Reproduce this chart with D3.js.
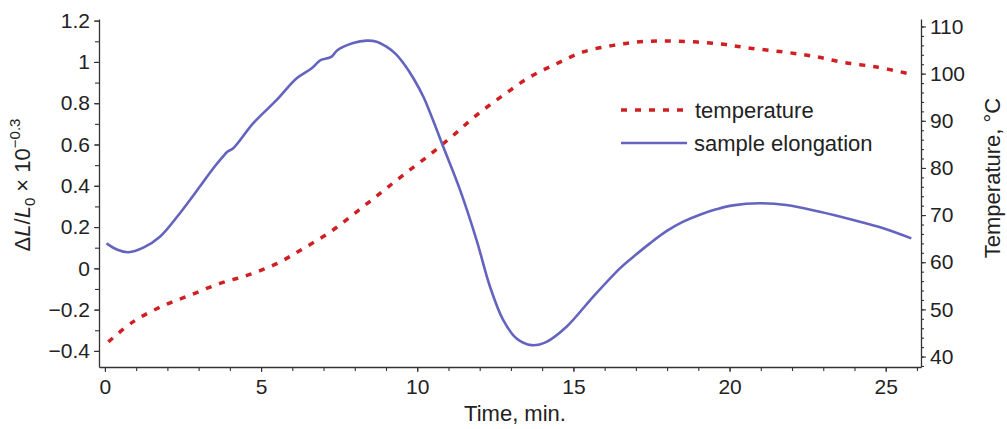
<!DOCTYPE html>
<html>
<head>
<meta charset="utf-8">
<script src="https://cdn.jsdelivr.net/npm/d3@7"></script>
<style>
  html, body { margin: 0; padding: 0; background: #fff; }
  svg { display: block; }
  text { font-family: "Liberation Sans", Arial, sans-serif; fill: #222; }
</style>
</head>
<body>
<svg id="chart" width="1007" height="429"></svg>
<script>
// ---- data ----
const elongTime = [0.05, 0.4, 0.75, 1.23, 1.76, 2.4, 3.04, 3.47, 3.84, 3.92, 4.11, 4.75, 5.5, 6.14, 6.62, 6.83, 6.92, 7.26, 7.45, 7.95, 8.38, 8.70, 9.0, 9.3, 9.6, 9.9, 10.2, 10.5, 10.83, 11.37, 11.9, 12.33, 12.75, 13.18, 13.66, 14.14, 14.78, 15.63, 16.49, 16.92, 17.45, 17.98, 18.5, 19.05, 19.6, 20.11, 20.97, 21.82, 22.89, 23.96, 24.92, 25.82];
const elongValue = [0.121, 0.09, 0.078, 0.100, 0.153, 0.267, 0.396, 0.485, 0.552, 0.565, 0.582, 0.703, 0.816, 0.921, 0.969, 1.000, 1.010, 1.026, 1.058, 1.092, 1.103, 1.098, 1.075, 1.040, 0.985, 0.915, 0.830, 0.720, 0.590, 0.380, 0.137, -0.089, -0.250, -0.340, -0.372, -0.356, -0.283, -0.138, 0.000, 0.056, 0.121, 0.180, 0.225, 0.260, 0.287, 0.305, 0.315, 0.307, 0.274, 0.234, 0.194, 0.145];

const tempTime = [0.11, 0.91, 1.81, 2.72, 3.68, 4.59, 5.5, 6.35, 7.21, 8.06, 8.81, 9.55, 10.38, 11.15, 11.9, 12.75, 13.61, 14.46, 15.31, 16.28, 17.24, 18.3, 19.69, 20.66, 21.72, 22.68, 23.64, 24.71, 25.67];
const tempValue = [43.1, 47.4, 50.6, 53.0, 55.5, 57.3, 59.7, 62.9, 66.4, 70.7, 74.6, 78.5, 82.7, 86.9, 91.2, 95.4, 99.3, 102.1, 104.6, 106.0, 106.8, 106.9, 106.3, 105.4, 104.6, 103.7, 102.4, 101.4, 100.1];

const xTicks = [0, 5, 10, 15, 20, 25];
const leftTicks = [-0.4, -0.2, 0, 0.2, 0.4, 0.6, 0.8, 1, 1.2];
const rightTicks = [40, 50, 60, 70, 80, 90, 100, 110];
const legendLabels = ["temperature", "sample elongation"];

// ---- scales ----
const svg = d3.select("#chart");
const x = d3.scaleLinear().domain([-0.19, 26.13]).range([99, 921]);
const yL = d3.scaleLinear().domain([-0.478, 1.208]).range([367, 19]);
const yR = d3.scaleLinear().domain([37.78, 111.59]).range([367, 19]);

const fmtL = d => (d < 0 ? "\u2212" + Math.abs(d) : String(d));

// ---- axes ----
const axisColor = "#333";
function styleAxis(g) {
  g.selectAll("path.domain").attr("stroke", axisColor).attr("stroke-width", 1.3);
  g.selectAll(".tick line").attr("stroke", axisColor).attr("stroke-width", 1.1);
  g.selectAll(".tick text").attr("font-size", 21).attr("fill", "#222")
    .attr("font-family", '"Liberation Sans", Arial, sans-serif');
}

// minor ticks
svg.append("g").attr("transform", "translate(0,367)")
  .call(d3.axisBottom(x).tickValues(d3.range(0, 27, 1)).tickSize(4).tickFormat(""))
  .call(g => { styleAxis(g); g.select("path.domain").remove(); });
svg.append("g").attr("transform", "translate(99,0)")
  .call(d3.axisLeft(yL).tickValues(d3.range(-4, 13, 1).map(v => v / 10)).tickSize(4).tickFormat(""))
  .call(g => { styleAxis(g); g.select("path.domain").remove(); });
svg.append("g").attr("transform", "translate(921,0)")
  .call(d3.axisRight(yR).tickValues(d3.range(38, 112, 2)).tickSize(3).tickFormat(""))
  .call(g => { styleAxis(g); g.select("path.domain").remove(); });

// major axes
svg.append("g").attr("transform", "translate(0,367)")
  .call(d3.axisBottom(x).tickValues(xTicks).tickSize(5).tickSizeOuter(0).tickPadding(7))
  .call(styleAxis);
svg.append("g").attr("transform", "translate(99,0)")
  .call(d3.axisLeft(yL).tickValues(leftTicks).tickFormat(fmtL).tickSize(5).tickSizeOuter(0).tickPadding(4))
  .call(styleAxis);
svg.append("g").attr("transform", "translate(921,0)")
  .call(d3.axisRight(yR).tickValues(rightTicks).tickSize(5).tickSizeOuter(0).tickPadding(4))
  .call(styleAxis);

// ---- axis titles ----
svg.append("text").attr("x", 515).attr("y", 421).attr("text-anchor", "middle")
  .attr("font-size", 22).text("Time, min.");

const lt = svg.append("text").attr("transform", "translate(30,185) rotate(-90)")
  .attr("text-anchor", "middle").attr("font-size", 22);
lt.append("tspan").text("\u0394");
lt.append("tspan").attr("font-style", "italic").text("L");
lt.append("tspan").text("/");
lt.append("tspan").attr("font-style", "italic").text("L");
lt.append("tspan").attr("font-size", 15).attr("dy", 5).text("0");
lt.append("tspan").attr("dy", -5).text(" \u00d7 10");
lt.append("tspan").attr("font-size", 15).attr("dy", -10).text("\u22120.3");

svg.append("text").attr("transform", "translate(1000,178) rotate(-90)")
  .attr("text-anchor", "middle").attr("font-size", 22).text("Temperature, \u00b0C");

// ---- lines ----
const elongData = elongTime.map((t, i) => [t, elongValue[i]]);
const tempData = tempTime.map((t, i) => [t, tempValue[i]]);

const blue = "#6464c0";
const red = "#d01f22";

svg.append("path").datum(tempData)
  .attr("fill", "none").attr("stroke", red).attr("stroke-width", 3.5)
  .attr("stroke-dasharray", "6,8")
  .attr("d", d3.line().x(d => x(d[0])).y(d => yR(d[1])).curve(d3.curveCatmullRom));

svg.append("path").datum(elongData)
  .attr("fill", "none").attr("stroke", blue).attr("stroke-width", 2.6)
  .attr("d", d3.line().x(d => x(d[0])).y(d => yL(d[1])).curve(d3.curveCatmullRom));

// ---- legend ----
const lg = svg.append("g");
lg.append("line").attr("x1", 621).attr("x2", 687).attr("y1", 110).attr("y2", 110)
  .attr("stroke", red).attr("stroke-width", 3.5).attr("stroke-dasharray", "6,8");
lg.append("text").attr("x", 695).attr("y", 110).attr("dy", "0.35em")
  .attr("font-size", 22).text(legendLabels[0]);
lg.append("line").attr("x1", 621).attr("x2", 687).attr("y1", 143).attr("y2", 143)
  .attr("stroke", blue).attr("stroke-width", 2.6);
lg.append("text").attr("x", 694).attr("y", 143).attr("dy", "0.35em")
  .attr("font-size", 22).text(legendLabels[1]);
</script>
</body>
</html>
